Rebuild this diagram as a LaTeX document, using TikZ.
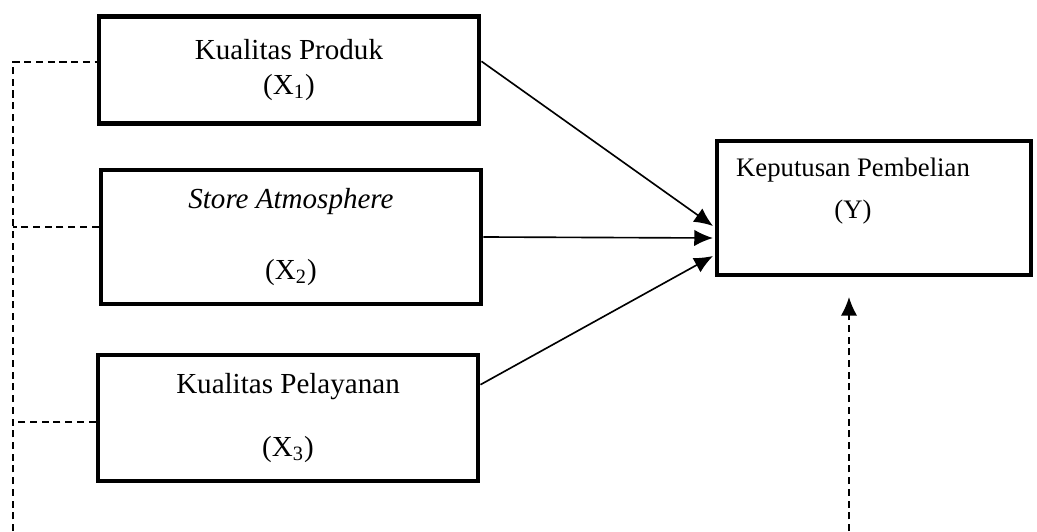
\documentclass[tikz,border=0pt]{standalone}
\usepackage{fontspec}
\setmainfont{Liberation Serif}
\usetikzlibrary{arrows.meta}
\begin{document}
\begin{tikzpicture}[x=0.015cm, y=-0.015cm,
		kotak/.style={draw, line width=2.1pt, align=center, inner sep=0pt,
			font=\fontsize{12.4}{14}\selectfont},
		panah/.style={-{Latex[length=8pt, width=7pt]}, line width=0.7pt},
		putus/.style={line width=0.7pt, dash pattern=on 3pt off 2pt}]
	% Batas gambar
	\useasboundingbox (0,0) rectangle (1037,531);
	
	% --- Variabel bebas ---
	\node[kotak, minimum width=5.7cm, minimum height=1.6cm] (kp) at (289,70)
	{Kualitas Produk\\[1pt](X\textsubscript{1})};
	\node[kotak, minimum width=5.7cm, minimum height=2.01cm] (sa) at (291,237)
	{\textit{Store Atmosphere}\\[16pt](X\textsubscript{2})};
	\node[kotak, minimum width=5.7cm, minimum height=1.89cm] (kpl) at (288,418)
	{Kualitas Pelayanan\\[13pt](X\textsubscript{3})};
	
	% --- Variabel terikat ---
	\node[kotak, minimum width=4.71cm, minimum height=2.01cm] (kpb) at (874,208) {};
	\node[align=center, font=\fontsize{11.4}{14}\selectfont] (kpbteks) at (853,191)
	{Keputusan Pembelian\\[4pt](Y)};
	
	% --- Titik bantu ---
	\coordinate (t1) at (713,226);
	\coordinate (t2) at (713,238);
	\coordinate (t3) at (713,256);
	\coordinate (kiri) at (13,62);
	\coordinate (kiribawah) at (13,531);
	\coordinate (kananbawah) at (849,531);
	\coordinate (ujung) at (849,297);
	
	% --- Panah ---
	\draw[panah] ([yshift=0.13cm]kp.east) -- (t1);
	\draw[panah] (sa.east) -- (t2);
	\draw[panah] ([yshift=0.5cm]kpl.east) -- (t3);
	
	% --- Garis putus-putus ---
	\draw[putus] (kiribawah) -- (kiri) -- (kiri -| kp.west);
	\draw[putus] ([yshift=0.15cm]sa.west) -- ([yshift=0.15cm]sa.west -| kiri);
	\draw[putus] ([yshift=-0.06cm]kpl.west) -- ([yshift=-0.06cm]kpl.west -| kiri);
	\draw[putus, -{Latex[length=8pt, width=7pt]}] (kananbawah) -- (ujung);
\end{tikzpicture}
\end{document}
